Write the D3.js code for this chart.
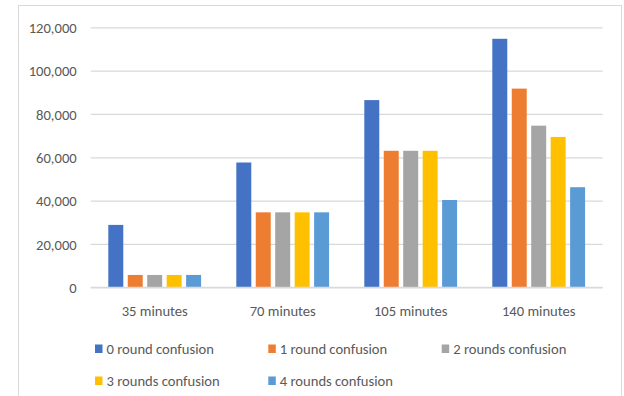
<!DOCTYPE html>
<html>
<head>
<meta charset="utf-8">
<script src="https://cdn.jsdelivr.net/npm/d3@7"></script>
<style>
  html, body { margin: 0; padding: 0; background: #fff; }
  svg { display: block; }
  text { font-family: Carlito, Lato, "Liberation Sans", sans-serif; fill: #595959; }
</style>
</head>
<body>
<svg id="chart" width="624" height="396"></svg>
<script>
const categories = ["35 minutes", "70 minutes", "105 minutes", "140 minutes"];
const seriesNames = ["0 round confusion", "1 round confusion", "2 rounds confusion", "3 rounds confusion", "4 rounds confusion"];
const seriesColors = ["#4472C4", "#ED7D31", "#A5A5A5", "#FFC000", "#5B9BD5"];
const round0 = [28800, 57600, 86400, 114700];
const round1 = [5700, 34600, 63000, 91700];
const round2 = [5700, 34600, 63000, 74600];
const round3 = [5700, 34600, 63000, 69400];
const round4 = [5700, 34600, 40300, 46200];
const yTicks = [0, 20000, 40000, 60000, 80000, 100000, 120000];

const seriesValues = [round0, round1, round2, round3, round4];
const fontSize = "14.6px";

const svg = d3.select("#chart");

// chart frame
svg.append("rect")
  .attr("x", 18.5).attr("y", 5.5)
  .attr("width", 603).attr("height", 395)
  .attr("fill", "#fff").attr("stroke", "#d9d9d9").attr("stroke-width", 1);

const plotLeft = 90.7, plotRight = 602.7, plotTop = 27.3, plotBottom = 287.3;

const y = d3.scaleLinear().domain([0, 120000]).range([plotBottom, plotTop]);
const x0 = d3.scaleBand().domain(categories).range([plotLeft, plotRight]).padding(0);
const x1 = d3.scaleBand().domain(seriesNames).range([17.6, 110.4]).paddingInner(0.23).paddingOuter(0);

// gridlines
const yAxis = d3.axisLeft(y).tickValues(yTicks).tickSize(-(plotRight - plotLeft)).tickPadding(14)
  .tickFormat(d3.format(","));
const gAxis = svg.append("g").attr("transform", `translate(${plotLeft},0)`).call(yAxis);
gAxis.select(".domain").remove();
gAxis.selectAll(".tick line").attr("stroke", "#d9d9d9").attr("stroke-width", 1.2);
gAxis.selectAll(".tick text")
  .attr("fill", "#595959")
  .style("font-size", fontSize)
  .attr("dy", "0.35em");

// bars
const groups = svg.append("g").selectAll("g")
  .data(categories)
  .join("g")
  .attr("transform", d => `translate(${x0(d)},0)`);

groups.selectAll("rect")
  .data((c, ci) => seriesNames.map((s, si) => ({ s, si, v: seriesValues[si][ci] })))
  .join("rect")
  .attr("x", d => x1(d.s))
  .attr("width", x1.bandwidth())
  .attr("y", d => y(d.v))
  .attr("height", d => y(0) - y(d.v))
  .attr("fill", d => seriesColors[d.si]);

// baseline
svg.append("line")
  .attr("x1", plotLeft).attr("x2", plotRight)
  .attr("y1", y(0)).attr("y2", y(0))
  .attr("stroke", "#d9d9d9").attr("stroke-width", 1.2);

// category labels
const xAxis = d3.axisBottom(x0).tickSize(0).tickPadding(0);
const gx = svg.append("g").attr("transform", `translate(0,${plotBottom + 23.4})`).call(xAxis);
gx.select(".domain").remove();
gx.selectAll(".tick text")
  .attr("fill", "#595959")
  .attr("dy", "0.35em")
  .style("font-size", fontSize);

// legend
const legendPos = [[95, 349], [268.3, 349], [441.7, 349], [95, 381], [268.3, 381]];
const legend = svg.append("g").selectAll("g")
  .data(seriesNames)
  .join("g")
  .attr("transform", (d, i) => `translate(${legendPos[i][0]},${legendPos[i][1]})`);
legend.append("rect")
  .attr("x", 0).attr("y", -4.5).attr("width", 7.5).attr("height", 8.5)
  .attr("fill", (d, i) => seriesColors[i]);
legend.append("text")
  .attr("x", 11.5).attr("y", 0).attr("dy", "0.35em")
  .style("font-size", fontSize)
  .text(d => d);
</script>
</body>
</html>
